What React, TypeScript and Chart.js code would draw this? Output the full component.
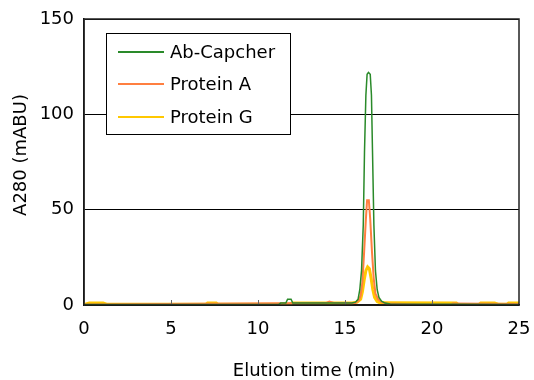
import React, { useEffect, useRef } from "react";
import { Chart, registerables } from "chart.js";

Chart.register(...registerables);

const seriesLabels = ["Ab-Capcher", "Protein A", "Protein G"];
const seriesColors = ["#2a8a2a", "#ff7f40", "#ffc800"];
const seriesWidths = [1.5, 2, 3];

const abCapcherTime = [0, 11.2, 11.3, 11.6, 11.7, 11.9, 12.0, 15.4, 15.6, 15.75, 15.85, 15.95, 16.05, 16.12, 16.2, 16.27, 16.35, 16.45, 16.52, 16.58, 16.66, 16.75, 16.85, 16.95, 17.1, 17.3, 17.6, 25];
const abCapcherA280 = [0.3, 0.3, 1, 1, 3, 3, 1, 1, 1.5, 3, 8, 18, 42, 80, 110, 121, 122, 121, 110, 81, 42, 18, 8, 4, 2, 1, 0.5, 0.3];

const proteinATime = [0, 13.9, 14.1, 14.4, 15.4, 15.6, 15.8, 15.9, 16.0, 16.1, 16.2, 16.27, 16.37, 16.45, 16.55, 16.65, 16.75, 16.9, 17.1, 17.4, 19.3, 21.1, 21.2, 25];
const proteinAA280 = [0.3, 1, 1.8, 1, 1, 1, 2.5, 5, 12, 28, 45, 55, 55, 45, 28, 14, 6, 3, 1.5, 0.8, 0.2, 0.2, 0.8, 0.5];

const proteinGTime = [0, 0.3, 1.1, 1.3, 7.0, 7.1, 7.6, 7.7, 11.8, 12.0, 15.4, 15.7, 15.9, 16.0, 16.1, 16.2, 16.3, 16.4, 16.5, 16.6, 16.7, 16.85, 17.0, 17.2, 21.4, 21.5, 22.7, 22.8, 23.6, 23.8, 24.3, 24.4, 25];
const proteinGA280 = [0.3, 1, 1, 0.4, 0.4, 1, 1, 0.4, 0.4, 1, 1, 1.5, 3, 7, 13, 18, 20, 19, 14, 8, 4, 1.8, 1.2, 1.2, 1, 0.3, 0.3, 1, 1, 0.4, 0.4, 1, 1];

const xTicks = [0, 5, 10, 15, 20, 25];
const yTicks = [0, 50, 100, 150];
const xTitle = "Elution time (min)";
const yTitle = "A280 (mABU)";

const FONT = "'DejaVu Sans', sans-serif";

const toPoints = (xs: number[], ys: number[]) => xs.map((x, i) => ({ x, y: ys[i] }));

const framePlugin = {
  id: "frameAndExtras",
  afterDatasetsDraw(chart: any) {
    const { ctx, chartArea: a, scales } = chart;
    ctx.save();
    ctx.strokeStyle = "#666";
    ctx.lineWidth = 1;
    xTicks.slice(1, -1).forEach((t) => {
      const px = Math.round(scales.x.getPixelForValue(t)) + 0.5;
      ctx.beginPath();
      ctx.moveTo(px, a.bottom - 5);
      ctx.lineTo(px, a.bottom);
      ctx.stroke();
    });
    ctx.strokeStyle = "#222";
    ctx.lineWidth = 1.5;
    ctx.strokeRect(a.left, a.top, a.right - a.left, a.bottom - a.top);
    const bx = 106, by = 33, bw = 184, bh = 101;
    ctx.fillStyle = "#fff";
    ctx.fillRect(bx, by, bw, bh);
    ctx.strokeStyle = "#000";
    ctx.lineWidth = 1;
    ctx.strokeRect(bx + 0.5, by + 0.5, bw, bh);
    const rows = [52, 84, 117];
    chart.data.datasets.forEach((ds: any, i: number) => {
      ctx.strokeStyle = ds.borderColor;
      ctx.lineWidth = 2;
      ctx.beginPath();
      ctx.moveTo(118, rows[i]);
      ctx.lineTo(164, rows[i]);
      ctx.stroke();
      ctx.fillStyle = "#000";
      ctx.font = `18px ${FONT}`;
      ctx.textBaseline = "middle";
      ctx.textAlign = "left";
      ctx.fillText(ds.label, 170, rows[i] + 1);
    });
    ctx.fillStyle = "#000";
    ctx.font = `18px ${FONT}`;
    ctx.textAlign = "center";
    ctx.textBaseline = "middle";
    ctx.fillText(xTitle, 314, 371);
    ctx.translate(21, 155);
    ctx.rotate(-Math.PI / 2);
    ctx.fillText(yTitle, 0, 0);
    ctx.restore();
  },
};

export default function App() {
  const ref = useRef<HTMLCanvasElement | null>(null);
  useEffect(() => {
    document.body.style.margin = "0";
    const canvas = ref.current!;
    const times = [abCapcherTime, proteinATime, proteinGTime];
    const values = [abCapcherA280, proteinAA280, proteinGA280];
    const chart = new Chart(canvas, {
      type: "line",
      data: {
        datasets: seriesLabels.map((label, i) => ({
          label,
          data: toPoints(times[i], values[i]),
          borderColor: seriesColors[i],
          backgroundColor: seriesColors[i],
          borderWidth: seriesWidths[i],
          pointRadius: 0,
          tension: 0,
          fill: false,
        })),
      },
      options: {
        responsive: false,
        animation: false,
        devicePixelRatio: 1,
        layout: { padding: { top: 19, right: 15, left: 0, bottom: 0 } },
        plugins: { legend: { display: false }, tooltip: { enabled: false } },
        scales: {
          x: {
            type: "linear",
            min: 0,
            max: 25,
            afterFit: (s: any) => { s.height = 75; s.paddingRight = 0; s.paddingLeft = 0; },
            afterBuildTicks: (s: any) => { s.ticks = xTicks.map((v) => ({ value: v })); },
            grid: { display: false, drawTicks: false },
            border: { display: true, color: "#000", width: 1.5 },
            ticks: { color: "#000", font: { family: FONT, size: 18 }, padding: 14, maxRotation: 0 },
          },
          y: {
            type: "linear",
            min: 0,
            max: 150,
            afterFit: (s: any) => { s.width = 84; s.paddingTop = 0; s.paddingBottom = 0; },
            afterBuildTicks: (s: any) => { s.ticks = yTicks.map((v) => ({ value: v })); },
            grid: { color: "#000", lineWidth: 1, drawTicks: false },
            border: { display: true, color: "#000", width: 1.5 },
            ticks: { color: "#000", font: { family: FONT, size: 18 }, padding: 10 },
          },
        },
      },
      plugins: [framePlugin],
    });
    return () => chart.destroy();
  }, []);
  return (
    <div style={{ width: 534, height: 380, background: "#fff" }}>
      <canvas ref={ref} width={534} height={380} />
    </div>
  );
}
